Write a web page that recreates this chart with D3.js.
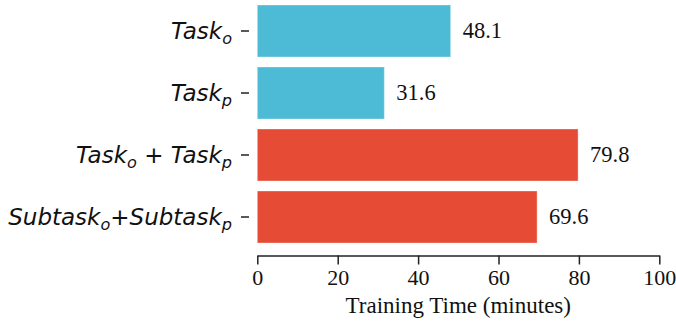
<!DOCTYPE html>
<html>
<head>
<meta charset="utf-8">
<script src="https://cdn.jsdelivr.net/npm/d3@7"></script>
<style>
  html, body { margin: 0; padding: 0; background: #fff; }
  svg { display: block; }
</style>
</head>
<body>
<svg id="chart" width="676" height="328"></svg>
<script>
// Category labels: each is a list of [text, style] pieces
// style: "i" italic, "sub" italic subscript, "op" upright operator
const categories = ["Task_o", "Task_p", "Task_o+Task_p", "Subtask_o+Subtask_p"];
const labelParts = [
  [["Task", "i"], ["o", "sub"]],
  [["Task", "i"], ["p", "sub"]],
  [["Task", "i"], ["o", "sub"], [" + ", "op"], ["Task", "i"], ["p", "sub"]],
  [["Subtask", "i"], ["o", "sub"], ["+", "op"], ["Subtask", "i"], ["p", "sub"]]
];
const values = [48.1, 31.6, 79.8, 69.6];
const groups = ["single", "single", "joint", "joint"];
const xTicks = [0, 20, 40, 60, 80, 100];
const xLabel = "Training Time (minutes)";

const palette = { single: "#4DBBD5", joint: "#E64B35" };
const serif = "'Liberation Serif', 'Times New Roman', Times, serif";

const svg = d3.select("#chart");
const left = 257.3, right = 659.3;

const x = d3.scaleLinear().domain([0, 100]).range([left, right]);
const y = d3.scaleBand()
  .domain(categories)
  .range([0, 248])
  .paddingInner(10 / 62)
  .paddingOuter(5 / 62);

// bars
svg.append("g")
  .selectAll("rect")
  .data(values)
  .join("rect")
  .attr("x", x(0))
  .attr("y", (d, i) => y(categories[i]))
  .attr("width", d => x(d) - x(0))
  .attr("height", y.bandwidth())
  .attr("fill", (d, i) => palette[groups[i]])
  .attr("stroke", "rgba(255,255,255,0.35)")
  .attr("stroke-width", 1);

// value labels
svg.append("g")
  .selectAll("text")
  .data(values)
  .join("text")
  .attr("x", d => x(d) + 12)
  .attr("y", (d, i) => y(categories[i]) + y.bandwidth() / 2 + 7)
  .style("font-family", serif)
  .style("font-size", "22.5px")
  .attr("fill", "#111")
  .text(d => d.toFixed(1));

// x axis (offset below the bars)
const xAxis = svg.append("g")
  .attr("transform", "translate(0,255.5)")
  .call(d3.axisBottom(x).tickValues(xTicks).tickSize(9).tickPadding(5).tickSizeOuter(0));
xAxis.select(".domain").attr("stroke", "#222").attr("stroke-width", 1.5);
xAxis.selectAll(".tick line").attr("stroke", "#222").attr("stroke-width", 1.5);
xAxis.selectAll(".tick text")
  .style("font-family", serif)
  .style("font-size", "22px")
  .attr("fill", "#111");

svg.append("text")
  .attr("x", (left + right) / 2)
  .attr("y", 313)
  .attr("text-anchor", "middle")
  .style("font-family", serif)
  .style("font-size", "23px")
  .attr("fill", "#111")
  .text(xLabel);

// y tick marks (no spine)
const yG = svg.append("g");
yG.selectAll("line")
  .data(categories)
  .join("line")
  .attr("x1", 241)
  .attr("x2", 249)
  .attr("y1", d => y(d) + y.bandwidth() / 2)
  .attr("y2", d => y(d) + y.bandwidth() / 2)
  .attr("stroke", "#222")
  .attr("stroke-width", 1.5);

// y tick labels with subscripts
const fs = 23;
yG.selectAll("text")
  .data(labelParts)
  .join("text")
  .attr("x", 232)
  .attr("y", (d, i) => y(categories[i]) + y.bandwidth() / 2 + 8)
  .attr("text-anchor", "end")
  .style("font-family", "'DejaVu Sans', sans-serif")
  .style("font-size", fs + "px")
  .attr("fill", "#111")
  .each(function(parts) {
    const t = d3.select(this);
    let shifted = false;
    parts.forEach(([txt, style]) => {
      const ts = t.append("tspan").text(txt).attr("xml:space", "preserve");
      if (style === "sub") {
        ts.style("font-style", "italic").style("font-size", (fs * 0.7) + "px").attr("dy", 5);
        shifted = true;
      } else {
        if (shifted) { ts.attr("dy", -5); shifted = false; }
        ts.style("font-style", style === "i" ? "italic" : "normal");
      }
    });
  });
</script>
</body>
</html>
